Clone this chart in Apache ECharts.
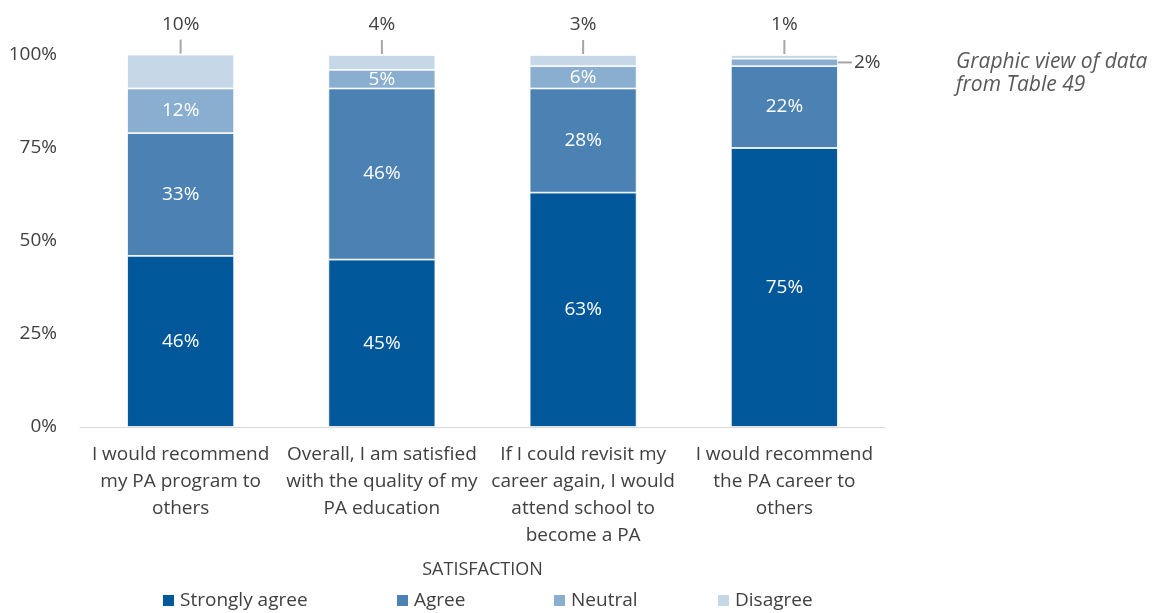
<!DOCTYPE html>
<html>
<head>
<meta charset="utf-8">
<script src="https://cdn.jsdelivr.net/npm/echarts@6/dist/echarts.min.js"></script>
<style>
  html, body { margin: 0; padding: 0; background: #fff; }
  #chart { width: 1160px; height: 613px; }
</style>
</head>
<body>
<div id="chart"></div>
<script>
// Survey statements (one stacked column each)
const categories = [
  'I would recommend\nmy PA program to\nothers',
  'Overall, I am satisfied\nwith the quality of my\nPA education',
  'If I could revisit my\ncareer again, I would\nattend school to\nbecome a PA',
  'I would recommend\nthe PA career to\nothers'
];

// Response shares, percent
const stronglyAgree = [46, 45, 63, 75];
const agree = [33, 46, 28, 22];
const neutral = [12, 5, 6, 2];
const disagree = [10, 4, 3, 1];

const seriesNames = ['Strongly agree', 'Agree', 'Neutral', 'Disagree'];
const yTicks = [0, 25, 50, 75, 100];

const FONT = '"Open Sans", "Noto Sans", sans-serif';
const TEXT = '#404040';
const LEADER = '#a6a6a6';
const colors = ['#00589b', '#4b82b3', '#89aecf', '#c6d7e8'];
const FS = 19;

const chart = echarts.init(document.getElementById('chart'), null, { renderer: 'canvas' });

const insideLabel = {
  show: true,
  position: 'inside',
  color: '#fff',
  fontFamily: FONT,
  fontSize: FS,
  formatter: p => p.value + '%'
};

// Neutral: the thin last segment gets its label to the right with a short leader
const neutralData = neutral.map((v, i) => {
  if (i !== 3) return v;
  return {
    value: v,
    label: {
      show: true,
      position: 'right',
      distance: 0,
      formatter: '{l| }{v|' + v + '%}',
      rich: {
        l: { width: 14, height: 2, backgroundColor: LEADER },
        v: { color: TEXT, fontFamily: FONT, fontSize: FS, padding: [0, 0, 0, 2] }
      }
    }
  };
});

const baseSeries = {
  type: 'bar',
  stack: 'total',
  barWidth: 107,
  itemStyle: { borderColor: '#ffffff', borderWidth: 0.8 }
};

// one legend block per series so each entry sits at its own column
const legendLefts = [161, 395, 552, 716];
const legends = seriesNames.map((name, i) => ({
  data: [name],
  left: legendLefts[i],
  top: 591,
  padding: 0,
  itemWidth: 13,
  itemHeight: 13,
  icon: 'rect',
  textStyle: { color: TEXT, fontFamily: FONT, fontSize: FS },
  selectedMode: false
}));

const option = {
  animation: false,
  color: colors,
  textStyle: { fontFamily: FONT },
  title: {
    text: 'Graphic view of data\nfrom Table 49',
    left: 951,
    top: 46,
    textStyle: {
      fontFamily: FONT,
      fontSize: 21,
      fontStyle: 'italic',
      fontWeight: 'normal',
      color: '#595959',
      lineHeight: 23
    }
  },
  legend: legends,
  grid: { left: 80, right: 275, top: 55, bottom: 186, containLabel: false },
  xAxis: {
    type: 'category',
    data: categories,
    name: 'SATISFACTION',
    nameLocation: 'middle',
    nameGap: 134,
    nameTextStyle: { color: TEXT, fontFamily: FONT, fontSize: 18 },
    axisLine: { show: true, lineStyle: { color: '#d9d9d9', width: 1 } },
    axisTick: { show: false },
    axisLabel: {
      color: TEXT,
      fontFamily: FONT,
      fontSize: FS,
      lineHeight: 27,
      margin: 14,
      interval: 0
    }
  },
  yAxis: {
    type: 'value',
    min: yTicks[0],
    max: yTicks[yTicks.length - 1],
    interval: yTicks[1] - yTicks[0],
    axisLine: { show: false },
    axisTick: { show: false },
    splitLine: { show: false },
    axisLabel: {
      color: TEXT,
      fontFamily: FONT,
      fontSize: FS,
      margin: 23,
      formatter: v => v + '%'
    }
  },
  series: [
    Object.assign({}, baseSeries, {
      name: seriesNames[0],
      data: stronglyAgree,
      label: insideLabel
    }),
    Object.assign({}, baseSeries, {
      name: seriesNames[1],
      data: agree,
      label: insideLabel
    }),
    Object.assign({}, baseSeries, {
      name: seriesNames[2],
      data: neutralData,
      label: insideLabel
    }),
    Object.assign({}, baseSeries, {
      name: seriesNames[3],
      data: disagree,
      label: {
        show: true,
        position: 'top',
        distance: 1,
        formatter: p => '{v|' + p.value + '%}\n{l| }',
        rich: {
          v: { color: TEXT, fontFamily: FONT, fontSize: FS, lineHeight: 30, align: 'center' },
          l: { width: 2, height: 14, lineHeight: 14, backgroundColor: LEADER, align: 'center' }
        }
      }
    })
  ]
};

chart.setOption(option);
</script>
</body>
</html>
